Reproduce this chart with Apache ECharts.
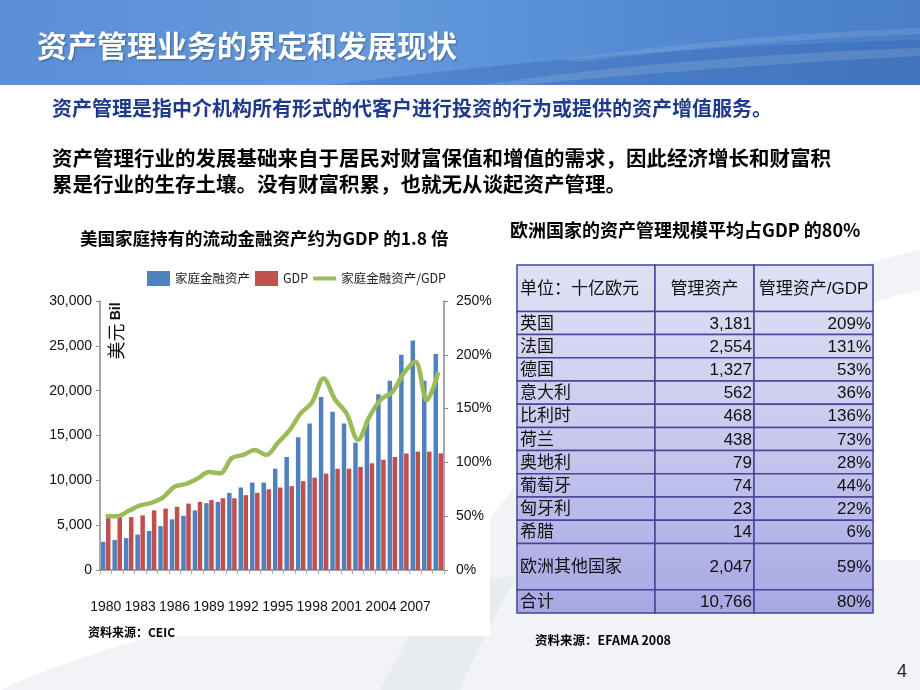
<!DOCTYPE html>
<html><head><meta charset="utf-8">
<script src="https://cdn.jsdelivr.net/npm/echarts@6.0.0/dist/echarts.min.js"></script>
<style>html,body{margin:0;padding:0;background:#fff;overflow:hidden}#c{width:920px;height:690px}</style>
</head><body><div id="c"></div><script>
// ---------- data ----------
const years = ['1980','1981','1982','1983','1984','1985','1986','1987','1988','1989',
  '1990','1991','1992','1993','1994','1995','1996','1997','1998','1999',
  '2000','2001','2002','2003','2004','2005','2006','2007','2008','2009'];
const householdAssets = [3150,3350,3550,3950,4350,4900,5650,6050,6650,7450,
  7600,8600,9200,9750,9750,11300,12600,14800,16350,19300,
  17650,16350,14200,16700,19600,21100,24000,25600,21100,24100];
const gdp = [5850,5950,5900,6100,6650,6850,7050,7400,7600,7800,
  8000,8000,8350,8600,9000,9200,9350,9900,10300,10750,
  11300,11300,11500,11900,12300,12600,13000,13200,13200,13000];
const assetToGdp = [50,50,55,60,62.5,67.5,77.5,80,85,91,
  90,104,107,111.5,107,118,129.5,145.5,156,178,
  158.5,145.5,121,142.5,158.5,165.5,183,193.5,158,184];
const seriesNames = ['家庭金融资产','GDP','家庭金融资产/GDP'];
const leftTicks = [0,5000,10000,15000,20000,25000,30000];
const rightTicks = [0,50,100,150,200,250];

const tableHeader = ['单位：十亿欧元','管理资产','管理资产/GDP'];
const countries = ['英国','法国','德国','意大利','比利时','荷兰','奥地利','葡萄牙','匈牙利','希腊','欧洲其他国家','合计'];
const aum = [3181,2554,1327,562,468,438,79,74,23,14,2047,10766];
const aumToGdp = [209,131,53,36,136,73,28,44,22,6,59,80];

// ---------- layout constants ----------
const colEdges = [0,138,237,356];
const rowUnits = [2,1,1,1,1,1,1,1,1,1,1,2,1];
const rowStarts = [];
{ let acc = 0; rowUnits.forEach(u => { rowStarts.push(acc); acc += u; }); }
const totalUnits = rowUnits.reduce((a,b)=>a+b,0);

const CJK = '"Noto Sans CJK SC", "Liberation Sans", sans-serif';
const NARROW = '"Liberation Sans Narrow", "Arial Narrow", "Liberation Sans", sans-serif';
const fmt = v => v.toLocaleString('en-US');
const lin = (x,y,x2,y2,stops,global) => ({type:'linear', x, y, x2, y2, global:!!global,
  colorStops: stops.map(s => ({offset:s[0], color:s[1]}))});
// decorative curve sampler (background swooshes only)
function bez(a,b,c,d,n){ const pts=[]; for(let k=0;k<=n;k++){ const t=k/n, u=1-t;
  pts.push([u*u*u*a[0]+3*u*u*t*b[0]+3*u*t*t*c[0]+t*t*t*d[0], u*u*u*a[1]+3*u*u*t*b[1]+3*u*t*t*c[1]+t*t*t*d[1]]); } return pts; }
function band(top, bottom){ return top.concat(bottom.slice().reverse()); }

const chart = echarts.init(document.getElementById('c'), null, {renderer:'canvas', width:920, height:690});

function tableItem(params, api){
  const i = api.value(0);
  const y0 = rowStarts[i], y1 = y0 + rowUnits[i];
  const cells = i === 0 ? tableHeader : [countries[i-1], fmt(aum[i-1]), aumToGdp[i-1] + '%'];
  const top = api.coord([0,0])[1], bottom = api.coord([0,totalUnits])[1];
  const grad = lin(0, top, 0, bottom, [[0,'#e0e0f5'],[0.45,'#cbcbef'],[1,'#a7a7e5']], true);
  const children = [];
  for (let c = 0; c < 3; c++){
    const p0 = api.coord([colEdges[c], y0]);
    const p1 = api.coord([colEdges[c+1], y1]);
    children.push({type:'rect', shape:{x:p0[0], y:p0[1], width:p1[0]-p0[0], height:p1[1]-p0[1]},
      style:{fill:grad, stroke:'#45459b', lineWidth:1.5}});
    let align, tx;
    if (c === 0){ align='left'; tx=p0[0]+3; }
    else if (i === 0){ align='center'; tx=(p0[0]+p1[0])/2; }
    else { align='right'; tx=p1[0]-2; }
    children.push({type:'text', z2:10, style:{text:cells[c], x:tx, y:(p0[1]+p1[1])/2+1, align:align,
      verticalAlign:'middle', fill:'#111', font:'17px "Liberation Sans", "Noto Sans CJK SC", sans-serif'}});
  }
  return {type:'group', children};
}

const swoosh1 = bez([0,690],[200,600],[500,560],[920,560],24).concat([[920,690]]);
const swoosh2 = band(bez([380,690],[520,420],[700,300],[920,250],24), bez([460,690],[560,450],[720,340],[920,290],24));
const bannerDark = bez([330,85],[520,60],[720,45],[920,40],24).concat([[920,85]]);
const bannerLight1 = band(bez([480,85],[640,62],[800,52],[920,48],24), bez([520,85],[660,72],[800,62],[920,56],24));
const bannerLight2 = band(bez([560,60],[700,40],[820,32],[920,28],24), bez([580,62],[700,46],[820,38],[920,34],24));

const option = {
  animation:false,
  backgroundColor:'#ffffff',
  graphic:[
    {type:'polygon', z:0, shape:{points:swoosh1}, style:{fill:'rgba(225,229,236,0.45)'}},
    {type:'polygon', z:0, shape:{points:swoosh2}, style:{fill:'rgba(215,220,230,0.35)'}},
    {type:'rect', z:0, shape:{x:52, y:255, width:438, height:381}, style:{fill:'#ffffff'}},
    {type:'rect', z:0, shape:{x:0, y:0, width:920, height:85}, style:{fill:lin(0,0,1,0,[
      [0,'#5a8fd6'],[0.4,'#6499dd'],[0.75,'#5288d0'],[1,'#4a7fc7']])}},
    {type:'polygon', z:0, shape:{points:bannerDark}, style:{fill:'rgba(40,90,165,0.28)'}},
    {type:'polygon', z:0, shape:{points:bannerLight1}, style:{fill:'rgba(255,255,255,0.12)'}},
    {type:'polygon', z:0, shape:{points:bannerLight2}, style:{fill:'rgba(255,255,255,0.10)'}},
    {type:'text', z:10, x:37, y:46, style:{text:'资产管理业务的界定和发展现状', font:'bold 30px '+CJK, fill:'#ffffff',
      verticalAlign:'middle', textShadowColor:'rgba(0,0,0,0.35)', textShadowBlur:2, textShadowOffsetX:1, textShadowOffsetY:1}},
    {type:'text', z:10, x:52, y:108, style:{text:'资产管理是指中介机构所有形式的代客户进行投资的行为或提供的资产增值服务。',
      font:'bold 20px '+CJK, fill:'#1f3a8a', verticalAlign:'middle'}},
    {type:'text', z:10, x:52, y:158, style:{text:'资产管理行业的发展基础来自于居民对财富保值和增值的需求，因此经济增长和财富积',
      font:'bold 20.5px '+CJK, fill:'#000', verticalAlign:'middle'}},
    {type:'text', z:10, x:52, y:184, style:{text:'累是行业的生存土壤。没有财富积累，也就无从谈起资产管理。',
      font:'bold 20.5px '+CJK, fill:'#000', verticalAlign:'middle'}},
    {type:'text', z:10, x:80, y:238, style:{text:'美国家庭持有的流动金融资产约为GDP 的1.8 倍',
      font:'bold 17.5px '+CJK, fill:'#000', verticalAlign:'middle'}},
    {type:'text', z:10, x:510, y:230, style:{text:'欧洲国家的资产管理规模平均占GDP 的80%',
      font:'bold 18px '+CJK, fill:'#000', verticalAlign:'middle'}},
    {type:'text', z:10, x:88, y:632, style:{text:'资料来源：CEIC', font:'bold 12px '+CJK, fill:'#000', verticalAlign:'middle'}},
    {type:'text', z:10, x:535, y:640, style:{text:'资料来源：EFAMA 2008', font:'bold 12.5px '+CJK, fill:'#000', verticalAlign:'middle'}},
    {type:'text', z:10, x:897, y:672, style:{text:'4', font:'18px "Liberation Sans", sans-serif', fill:'#222', verticalAlign:'middle'}},
    {type:'text', z:10, x:116, y:331, rotation:Math.PI/2, style:{text:'{a|美元} {b|Bil}', align:'center', verticalAlign:'middle',
      rich:{a:{font:'18px '+CJK, fill:'#111'}, b:{font:'bold 14px "Liberation Sans", sans-serif', fill:'#111'}}}}
  ],
  legend:{
    left:147, top:271, itemWidth:23, itemHeight:15, itemGap:5, padding:0,
    textStyle:{fontSize:12.5, fontFamily:CJK, color:'#222'},
    data:[
      {name:seriesNames[0], icon:'rect'},
      {name:seriesNames[1], icon:'rect'},
      {name:seriesNames[2], icon:'path://M0,0 L23,0 L23,4 L0,4 Z'}
    ]
  },
  grid:[
    {left:100, top:301, width:344, height:269, containLabel:false},
    {left:517, top:265, width:356, height:348, containLabel:false}
  ],
  xAxis:[
    {type:'category', gridIndex:0, data:years, boundaryGap:true,
      axisLine:{show:true, lineStyle:{color:'#8a8a8a', width:1.5}},
      axisTick:{show:true, interval:0, length:4, lineStyle:{color:'#aaaaaa'}},
      axisLabel:{interval:2, margin:30, fontSize:14, fontFamily:NARROW, color:'#111'}},
    {type:'value', gridIndex:1, min:0, max:colEdges[3], show:false}
  ],
  yAxis:[
    {type:'value', gridIndex:0, min:leftTicks[0], max:leftTicks[leftTicks.length-1], interval:5000,
      axisLine:{show:true, lineStyle:{color:'#8a8a8a', width:1.5}},
      axisTick:{show:true, length:4, lineStyle:{color:'#8a8a8a'}},
      splitLine:{show:false},
      axisLabel:{margin:8, fontSize:14, fontFamily:NARROW, color:'#111', formatter:v=>fmt(v)}},
    {type:'value', gridIndex:0, position:'right', min:rightTicks[0], max:rightTicks[rightTicks.length-1], interval:50,
      axisLine:{show:true, lineStyle:{color:'#8a8a8a', width:1.5}},
      axisTick:{show:true, length:4, lineStyle:{color:'#8a8a8a'}},
      splitLine:{show:false},
      axisLabel:{margin:12, fontSize:14, fontFamily:NARROW, color:'#111', formatter:v=>v+'%'}},
    {type:'value', gridIndex:1, min:0, max:totalUnits, inverse:true, show:false}
  ],
  series:[
    {name:seriesNames[0], type:'bar', xAxisIndex:0, yAxisIndex:0, data:householdAssets,
      barWidth:4.5, barGap:'12%', itemStyle:{color:'#4f81bd'}},
    {name:seriesNames[1], type:'bar', xAxisIndex:0, yAxisIndex:0, data:gdp,
      barWidth:4.5, itemStyle:{color:'#c0504d'}},
    {name:seriesNames[2], type:'line', xAxisIndex:0, yAxisIndex:1, data:assetToGdp,
      smooth:0.35, symbol:'none', lineStyle:{color:'#9bbb59', width:4.5}, itemStyle:{color:'#9bbb59'}, z:5},
    {type:'custom', xAxisIndex:1, yAxisIndex:2, clip:false, renderItem:tableItem,
      data:rowUnits.map((u,i)=>[i, rowStarts[i]]), silent:true}
  ]
};
chart.setOption(option);
</script></body></html>
